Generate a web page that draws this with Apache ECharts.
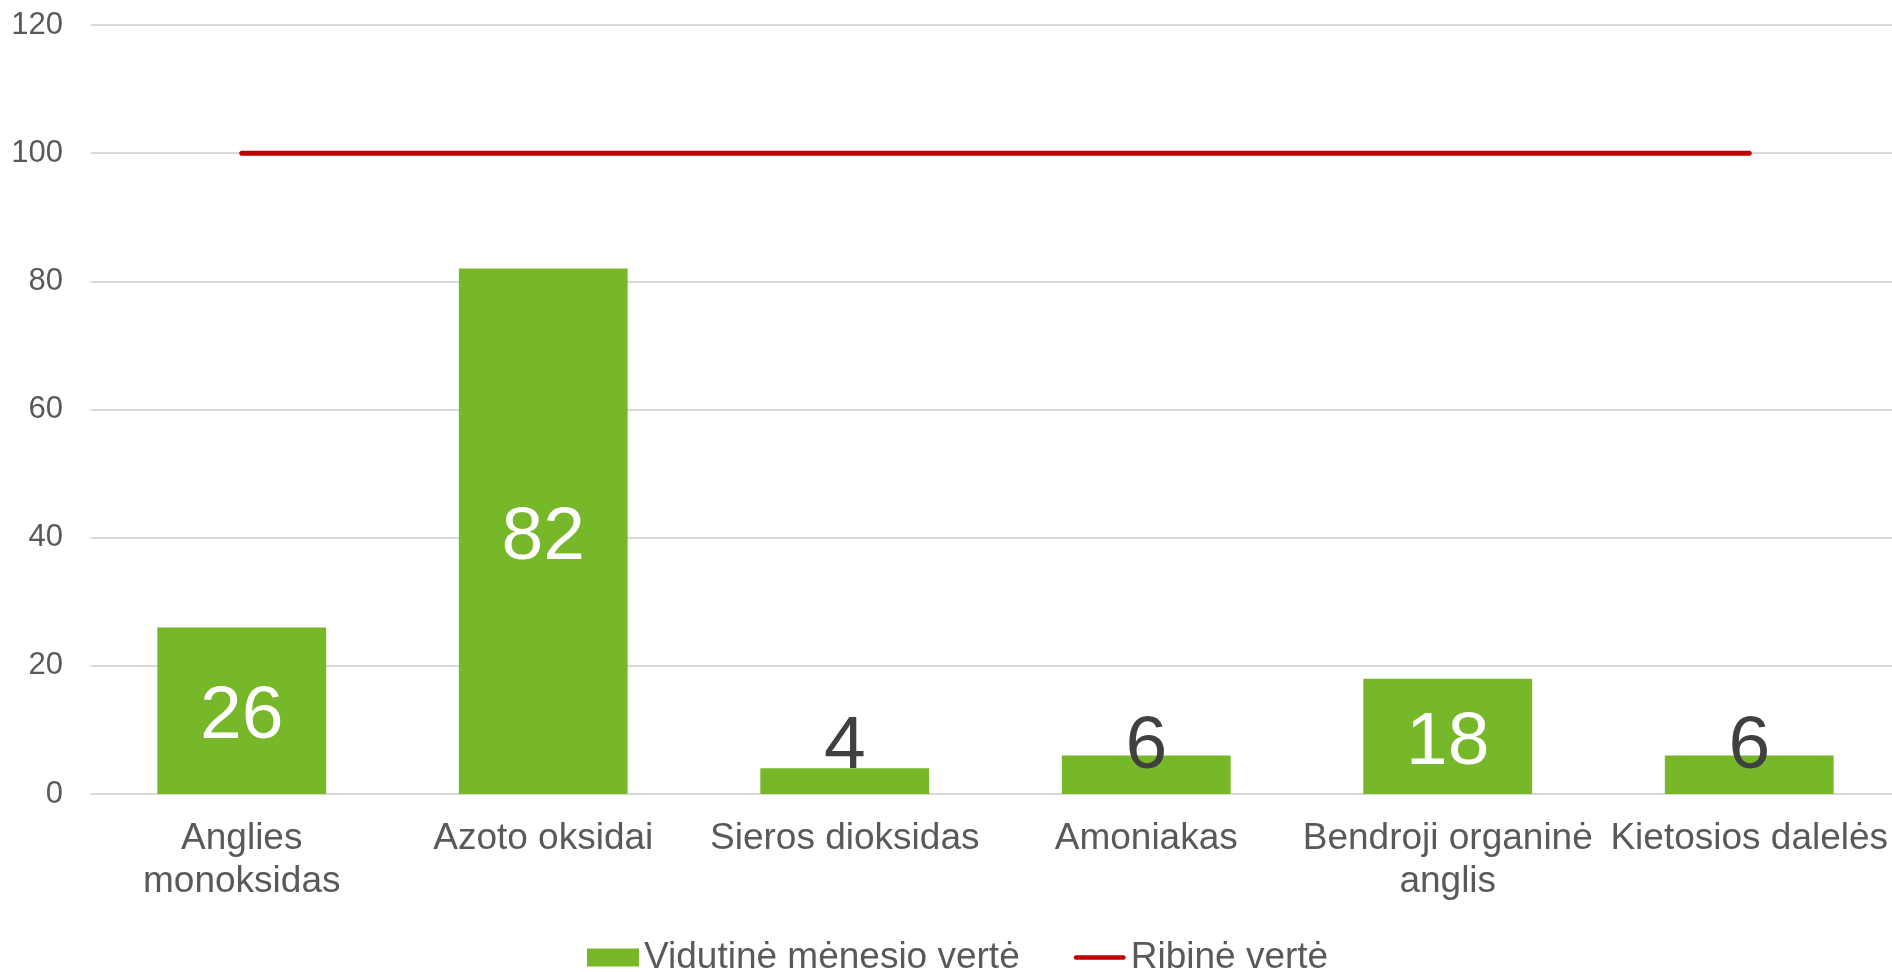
<!DOCTYPE html>
<html>
<head>
<meta charset="utf-8">
<title>Vidutinė mėnesio vertė</title>
<script src="https://cdn.jsdelivr.net/npm/echarts@6/dist/echarts.min.js"></script>
<style>
    html, body { margin: 0; padding: 0; background: #fff; overflow: hidden; }
    /* brėžinio sritis šiek tiek išeina už dešiniojo krašto, kaip originale */
    #chart { width: 1900px; height: 972px; }
</style>
</head>
<body>
<div id="chart"></div>
<script>
    // kategorijos (x ašis)
    const categories = ['Anglies\nmonoksidas', 'Azoto oksidai', 'Sieros dioksidas', 'Amoniakas', 'Bendroji organinė\nanglis', 'Kietosios dalelės']
    // vidutinė mėnesio vertė
    const monthValues = [26, 82, 4, 6, 18, 6]
    // ribinė vertė
    const limitValues = [100, 100, 100, 100, 100, 100]

    const FONT = 'Liberation Sans, Arial, sans-serif'

    const chart = echarts.init(document.getElementById('chart'))

    // mažoms reikšmėms etiketė tamsi ir virš stulpelio
    const barData = monthValues.map(v => {
        if (v < 10) {
            return {
                value: v,
                label: { position: 'insideBottom', distance: 9, offset: [0, 0], color: '#404040' }
            }
        }
        return v
    })

    const option = {
        animation: false,
        textStyle: { fontFamily: FONT },
        grid: {
            left: 91,
            right: 0,
            top: 25,
            bottom: 178
        },
        legend: {
            top: 934,
            left: 582,
            itemGap: 54,
            itemWidth: 52,
            itemHeight: 18,
            textStyle: { fontSize: 37, color: '#595959', fontFamily: FONT },
            data: [
                { name: 'Vidutinė mėnesio vertė', icon: 'rect' },
                { name: 'Ribinė vertė', icon: 'path://M2.5,0 L53.5,0 A2.5,2.5 0 0 1 53.5,5 L2.5,5 A2.5,2.5 0 0 1 2.5,0 Z' }
            ]
        },
        xAxis: {
            type: 'category',
            data: categories,
            axisLine: { lineStyle: { color: '#D9D9D9', width: 2 } },
            axisTick: { show: false },
            axisLabel: {
                interval: 0,
                fontSize: 37,
                lineHeight: 43,
                color: '#595959',
                margin: 23
            }
        },
        yAxis: {
            type: 'value',
            min: 0,
            max: 120,
            interval: 20,
            axisLine: { show: false },
            axisTick: { show: false },
            axisLabel: { fontSize: 31, color: '#595959', margin: 28 },
            splitLine: { lineStyle: { color: '#D9D9D9', width: 2 } }
        },
        series: [
            {
                name: 'Vidutinė mėnesio vertė',
                type: 'bar',
                data: barData,
                barCategoryGap: '44%',
                itemStyle: { color: '#76B82A' },
                label: {
                    show: true,
                    position: 'inside',
                    offset: [0, 7],
                    fontSize: 75,
                    color: '#fff',
                    fontFamily: FONT
                }
            },
            {
                name: 'Ribinė vertė',
                type: 'line',
                data: limitValues,
                symbol: 'none',
                lineStyle: { color: '#C00000', width: 5, cap: 'round' },
                itemStyle: { color: '#C00000' }
            }
        ]
    }

    chart.setOption(option)
</script>
</body>
</html>
